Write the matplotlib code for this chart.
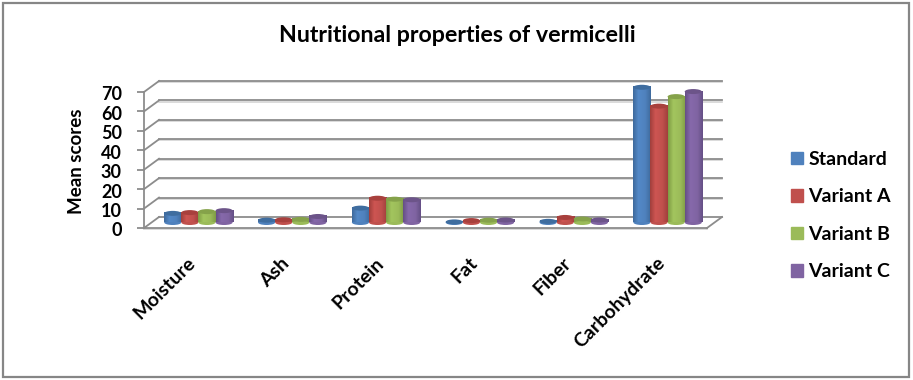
import numpy as np
import matplotlib
matplotlib.use("Agg")
import matplotlib.pyplot as plt
from matplotlib.colors import LinearSegmentedColormap
from matplotlib.patches import Ellipse, Rectangle
from matplotlib.transforms import ScaledTranslation

categories = ["Moisture", "Ash", "Protein", "Fat", "Fiber", "Carbohydrate"]
series_names = ["Standard", "Variant A", "Variant B", "Variant C"]
standard = [4.7, 1.2, 7.4, 0.3, 0.6, 69.6]
variant_a = [5.1, 1.4, 12.5, 1.0, 2.6, 59.9]
variant_b = [5.6, 1.6, 12.0, 1.2, 1.8, 64.8]
variant_c = [6.1, 3.1, 11.7, 1.3, 1.3, 67.4]
y_ticks = [0, 10, 20, 30, 40, 50, 60, 70]

series = [standard, variant_a, variant_b, variant_c]
base_cols = ["#4F81BD", "#C0504D", "#9BBB59", "#8064A2"]
dark_cols = ["#3E6A9C", "#A03F3C", "#7F9C45", "#654F85"]
light_cols = ["#5389C8", "#CE5552", "#A3C55E", "#8669AB"]
top_cols = ["#3F6D9F", "#A8403D", "#85A24A", "#6C5489"]

W, H = 913, 380
plt.rcParams["font.family"] = ["Lato", "DejaVu Sans"]
fig = plt.figure(figsize=(W / 100, H / 100), dpi=100, facecolor="white")

L, R, T, B = 144, 707, 92, 228
ax = fig.add_axes([L / W, 1 - B / H, (R - L) / W, (B - T) / H])
ax.set_xlim(0, 6)
ax.set_ylim(0, 70)
ax.patch.set_alpha(0)
px_x = 6 / (R - L)
px_y = 70 / (B - T)
dx, dy = 15 * px_x, 11 * px_y

GRID = "#8C8C8C"
SHADOW = "#D4D4D4"
for v in y_ticks:
    if v > 0:
        ax.plot([dx, 6 + dx], [v + dy - 1.2 * px_y] * 2, color=SHADOW, lw=1.2, clip_on=False, zorder=1)
        ax.plot([dx, 6 + dx], [v + dy] * 2, color=GRID, lw=1.3, clip_on=False, zorder=1.2)
    ax.plot([0, dx], [v, v + dy], color=GRID, lw=1.3, clip_on=False, zorder=1.2)
ax.plot([dx, 6 + dx], [dy, dy], color=GRID, lw=1.3, clip_on=False, zorder=1.2)
ax.plot([0, 6], [-1.2 * px_y] * 2, color=SHADOW, lw=1.2, clip_on=False, zorder=1)
ax.plot([0, 6], [0, 0], color=GRID, lw=1.3, clip_on=False, zorder=1.2)
ax.plot([6, 6 + dx], [0, dy], color=GRID, lw=1.3, clip_on=False, zorder=1.2)

bar_w = 17.1 * px_x
ell_h = 5.0 * px_y
base_y = dy / 2
stops = np.linspace(0, 1, 64)[None, :]
for i, (vals, c0, c1, c2, c3) in enumerate(zip(series, base_cols, dark_cols, light_cols, top_cols)):
    cmap = LinearSegmentedColormap.from_list(
        f"c{i}", [(0, c1), (0.3, c2), (0.7, c0), (1, c1)])
    for j, v in enumerate(vals):
        x0 = j + 0.5 + dx / 2 + (i - 2) * bar_w
        z = 3 + i + j * 5
        ax.add_patch(Ellipse((x0 + bar_w / 2, base_y), bar_w, ell_h, color=c0, lw=0, zorder=z))
        ax.imshow(stops, cmap=cmap, aspect="auto", zorder=z + 0.1, clip_on=False,
                  extent=(x0, x0 + bar_w, base_y, base_y + v))
        ax.add_patch(Ellipse((x0 + bar_w / 2, base_y + v), bar_w, ell_h, color=c3, lw=0, zorder=z + 0.2,
                             clip_on=False))
ax.set_xlim(0, 6)
ax.set_ylim(0, 70)

for s in ["top", "right", "bottom"]:
    ax.spines[s].set_visible(False)
ax.spines["left"].set_color(GRID)
ax.spines["left"].set_linewidth(1.3)
ax.set_yticks(y_ticks)
ax.tick_params(axis="y", length=5, width=1.3, color=GRID, pad=11, labelsize=13, labelcolor="black")
ax.set_xticks(np.arange(6) + 0.5)
ax.set_xticklabels(categories, rotation=45, ha="right", va="top", rotation_mode="anchor",
                   fontsize=14, fontweight="bold")
ax.tick_params(axis="x", length=0, pad=19)
x_shift = ScaledTranslation(-4 / 100, 0, fig.dpi_scale_trans)
for lab in ax.get_xticklabels():
    lab.set_transform(lab.get_transform() + x_shift)
y_shift = ScaledTranslation(0, -1.5 / 100, fig.dpi_scale_trans)
for lab in ax.get_yticklabels():
    lab.set_fontweight("bold")
    lab.set_transform(lab.get_transform() + y_shift)
ax.set_ylabel("Mean scores", fontsize=13.5, fontweight="bold")
ax.yaxis.set_label_coords((85 - L) / (R - L), (B - 161) / (B - T))

fig.text(457 / W, 1 - 36 / H, "Nutritional properties of vermicelli", ha="center", va="center",
         fontsize=16.7, fontweight="bold", color="black")

handles = [Rectangle((0, 0), 1, 1, color=c) for c in base_cols]
leg = fig.legend(handles, series_names, loc="center left",
                 bbox_to_anchor=(791 / W, 1 - 215.5 / H), frameon=False, fontsize=14,
                 handlelength=0.62, handleheight=0.62, handletextpad=0.27, labelspacing=1.05,
                 borderpad=0, borderaxespad=0)
for t in leg.get_texts():
    t.set_fontweight("bold")

fig.add_artist(Rectangle((2.5 / W, 1 - 376.5 / H), 906 / W, 374 / H, transform=fig.transFigure,
                         fill=False, edgecolor="#868686", lw=1.6))
fig.savefig("out.png", dpi=100)
